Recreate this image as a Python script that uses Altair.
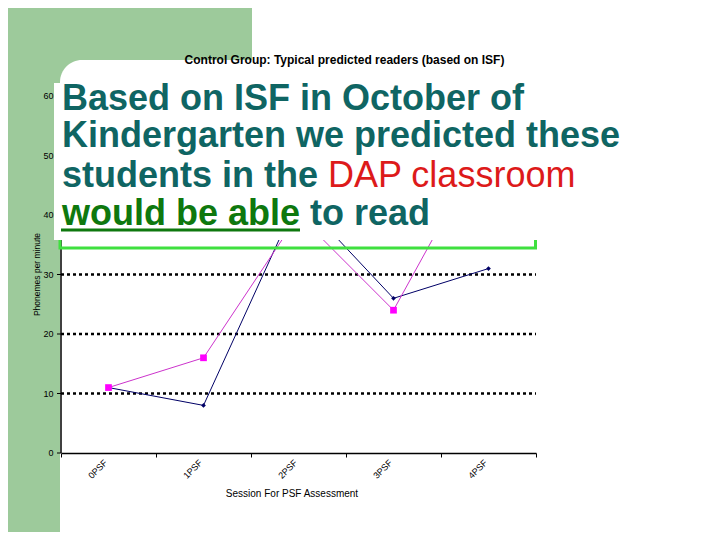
import altair as alt
import pandas as pd

# ---------------- data ----------------
sessions = ["0PSF", "1PSF", "2PSF", "3PSF", "4PSF"]
navy_values = [11, 8, 43, 26, 31]
pink_values = [11, 16, 40, 24, 53]
series_names = ["Reader A", "Reader B"]
y_ticks = [0, 10, 20, 30, 40, 50, 60]
grid_values = [10, 20, 30, 40, 50, 60]

chart_title = "Control Group: Typical predicted readers (based on ISF)"
x_title = "Session For PSF Assessment"
y_title = "Phonemes per minute"
line1 = "Based on ISF in October of"
line2 = "Kindergarten we predicted these"
line3a = "students in the"
line3b = "DAP classroom"
line4a = "would be able"
line4b = "to read"

# ---------------- styles ----------------
FONT = "Liberation Sans"
GREEN_BG = "#9DCA9B"
TEAL = "#0F6563"
RED = "#DD1A1A"
DARK_GREEN = "#0E780E"
BRIGHT_GREEN = "#3FE03F"
NAVY = "#000066"
PINK_LINE = "#CC33CC"
PINK_MARK = "#FF00FF"

W, H = 475, 357

rows = []
for name, vals in zip(series_names, [navy_values, pink_values]):
    for s, v in zip(sessions, vals):
        rows.append({"session": s, "series": name, "value": v})
df = pd.DataFrame(rows)
grid_df = pd.DataFrame({"v": grid_values})
tick_df = pd.DataFrame({"v": y_ticks})
one = pd.DataFrame({"k": [0]})

yscale = alt.Scale(domain=[0, 60], nice=False, zero=True)
xscale = alt.Scale(type="band", domain=sessions, paddingInner=0, paddingOuter=0)
xaxis = alt.Axis(
    tickBand="extent", labelAngle=315, labelFontSize=9, labelFont=FONT,
    labelColor="black", labelOffset=-6, labelPadding=1, tickSize=4, tickColor="black",
    domainColor="black", domainWidth=1.5, grid=False,
    title=x_title, titleFont=FONT, titleFontSize=10, titleFontWeight="normal",
    titleColor="black", titleX=230.5, titleY=40, titleAlign="center",
    titleBaseline="middle", zindex=1,
)
xenc = alt.X("session:N", scale=xscale, axis=xaxis, bandPosition=0.5, sort=sessions)
yenc = alt.Y("value:Q", scale=yscale, axis=None)

# background shapes
bg_green = alt.Chart(one).mark_rect(color=GREEN_BG).encode(
    x=alt.value(-53), x2=alt.value(191), y=alt.value(-88), y2=alt.value(436))
bg_white = alt.Chart(one).mark_rect(color="white", cornerRadius=22).encode(
    x=alt.value(-1), x2=alt.value(700), y=alt.value(-36), y2=alt.value(520))

grid = alt.Chart(grid_df).mark_rule(color="black", strokeWidth=2.5, strokeDash=[3, 3]).encode(
    y=alt.Y("v:Q", scale=yscale, axis=None), x=alt.value(0), x2=alt.value(W))
ydomain = alt.Chart(one).mark_rule(color="black", strokeWidth=1.5).encode(
    x=alt.value(0), y=alt.value(0), y2=alt.value(H))
yticks = alt.Chart(tick_df).mark_rule(color="black", strokeWidth=1).encode(
    y=alt.Y("v:Q", scale=yscale, axis=None), x=alt.value(-4), x2=alt.value(0))
ylabels = alt.Chart(tick_df).mark_text(
    align="right", baseline="middle", font=FONT, fontSize=9, color="black"
).encode(y=alt.Y("v:Q", scale=yscale, axis=None), x=alt.value(-7.5), text=alt.Text("v:Q"))
ytitle = alt.Chart(one).mark_text(
    align="center", baseline="middle", font=FONT, fontSize=8.5, color="black", angle=270
).encode(x=alt.value(-24), y=alt.value(178.5), text=alt.value(y_title))

navy_df = df[df.series == series_names[0]]
pink_df = df[df.series == series_names[1]]

navy_line = alt.Chart(navy_df).mark_line(strokeWidth=1, color=NAVY).encode(x=xenc, y=yenc)
pink_line = alt.Chart(pink_df).mark_line(strokeWidth=1, color=PINK_LINE).encode(x=xenc, y=yenc)
navy_pts = alt.Chart(navy_df).mark_point(shape="diamond", filled=True, size=22, color=NAVY, opacity=1).encode(x=xenc, y=yenc)
pink_pts = alt.Chart(pink_df).mark_point(shape="square", filled=True, size=45, color=PINK_MARK, opacity=1).encode(x=xenc, y=yenc)

outline = alt.Chart(one).mark_rect(fill="transparent", stroke=BRIGHT_GREEN, strokeWidth=3).encode(
    x=alt.value(-1), x2=alt.value(474.5), y=alt.value(100), y2=alt.value(152))
text_box = alt.Chart(one).mark_rect(color="white").encode(
    x=alt.value(-7), x2=alt.value(640), y=alt.value(-13), y2=alt.value(144))


def txt(s, x, y, col, weight="bold"):
    return alt.Chart(one).mark_text(
        align="left", baseline="alphabetic", font=FONT, fontSize=36,
        fontWeight=weight, color=col,
    ).encode(x=alt.value(x), y=alt.value(y), text=alt.value(s))


t1 = txt(line1, 1, 13.5, TEAL)
t2 = txt(line2, 1, 51, TEAL)
t3a = txt(line3a, 1, 90.5, TEAL)
t3b = txt(line3b, 267, 90.5, RED, "normal")
t4a = txt(line4a, 1, 129, DARK_GREEN)
t4b = txt(line4b, 249, 129, TEAL)
underline = alt.Chart(one).mark_rule(color=DARK_GREEN, strokeWidth=3).encode(
    x=alt.value(0), x2=alt.value(239), y=alt.value(134))

title = alt.Chart(one).mark_text(
    align="center", baseline="middle", font=FONT, fontSize=12, fontWeight="bold", color="black"
).encode(x=alt.value(283.5), y=alt.value(-36), text=alt.value(chart_title))

chart = alt.layer(
    bg_green, bg_white, grid, ydomain, yticks, ytitle,
    navy_line, pink_line, navy_pts, pink_pts,
    outline, text_box, ylabels, t1, t2, t3a, t3b, t4a, t4b, underline, title,
).properties(
    width=W, height=H,
    autosize=alt.AutoSizeParams(type="none"),
    padding={"left": 53, "top": 88, "right": 176, "bottom": 79},
).configure_view(stroke=None)

chart.save("out.html", embed_options={"renderer": "svg", "actions": False})
